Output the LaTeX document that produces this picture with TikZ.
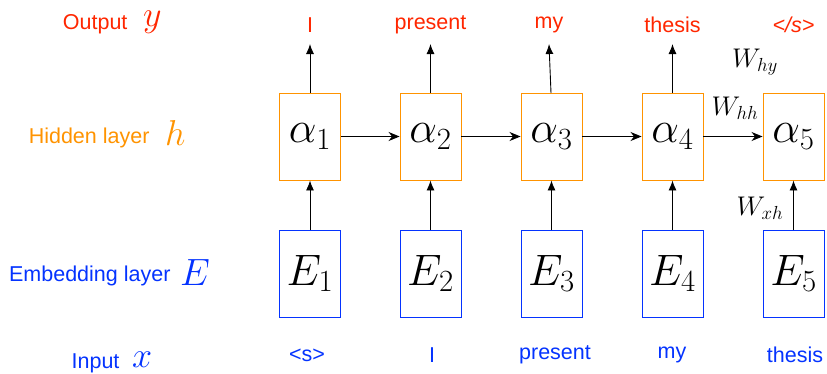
\RequirePackage{fix-cm}
\documentclass[tikz,border=0pt]{standalone}
\usepackage{fontspec}
\setmainfont{Liberation Sans}
\usetikzlibrary{arrows.meta}
\definecolor{kred}{RGB}{255,38,0}
\definecolor{korange}{RGB}{255,147,0}
\definecolor{kblue}{RGB}{4,51,255}
\begin{document}
\begin{tikzpicture}[x=1pt,y=-1pt,
  hbox/.style={draw=korange,line width=0.9pt,minimum width=61pt,minimum height=87pt,inner sep=0pt},
  ebox/.style={draw=kblue,line width=0.9pt,minimum width=61pt,minimum height=87pt,inner sep=0pt},
  big/.style={font=\fontsize{44}{50}\selectfont},
  word/.style={font=\fontsize{21.5}{24}\selectfont},
  sym/.style={inner sep=0pt,anchor=west},
  up/.style={-{Latex[length=10pt,width=8pt]},line width=0.9pt},
  right/.style={-{Stealth[length=11pt,width=9pt,inset=3.5pt]},line width=0.9pt},
  wlab/.style={font=\fontsize{27}{30}\selectfont,inner sep=0pt}]
\useasboundingbox (0,0) rectangle (827,373);
\foreach \i/\x in {1/310,2/430.5,3/551.5,4/672.5,5/793.5}{
  \node[hbox,big] (h\i) at (\x,136.5) {$\alpha_{\i}$};
  \node[ebox,big] (e\i) at (\x,273.5) {$E_{\i}$};
  \draw[up] (e\i) -- (h\i);
}
\foreach \a/\b in {1/2,2/3,3/4,4/5}{\draw[right] (h\a) -- (h\b);}
% outputs
\node[word,text=kred] (o1) at (310,25) {I};
\node[word,text=kred] (o2) at (430.5,25) {present};
\node[word,text=kred] (o3) at (549,25) {my};
\node[word,text=kred] (o4) at (672.5,25) {thesis};
\node[word,text=kred] (o5) at (793.5,25) {\textit{</s>}};
\coordinate (t1) at (310,44);
\coordinate (t2) at (430.5,44);
\coordinate (t3) at (549,44);
\coordinate (t4) at (672.5,44);
\draw[up] (h1.north) -- (t1);
\draw[up] (h2.north) -- (t2);
\draw[up] (551,93) -- (t3);
\draw[up] (h4.north) -- (t4);
% inputs
\node[word,text=kblue] (i1) at (307,355) {<s>};
\node[word,text=kblue] (i2) at (432,355) {I};
\node[word,text=kblue] (i3) at (555,355) {present};
\node[word,text=kblue] (i4) at (672,355) {my};
\node[word,text=kblue] (i5) at (795,355) {thesis};
% weight labels
\node[wlab] (whyl) at (755,62) {$W_{hy}$};
\node[wlab] (whhl) at (735,108) {$W_{hh}$};
\node[wlab] (wxhl) at (760,208) {$W_{xh}$};
% left labels
\node[word,text=kred,anchor=east] (lo) at (131,24) {Output};
\node[sym,text=kred,font=\fontsize{36}{38}\selectfont] (loy) at (143,22) {$y$};
\node[word,text=korange,anchor=east] (lh) at (153,138) {Hidden layer};
\node[sym,text=korange,font=\fontsize{36}{38}\selectfont] (lhh) at (165,133) {$h$};
\node[word,text=kblue,anchor=east] (le) at (174,276) {Embedding layer};
\node[sym,text=kblue,font=\fontsize{38}{40}\selectfont] (lee) at (180,273) {$E$};
\node[word,text=kblue,anchor=east] (li) at (123,363) {Input};
\node[sym,text=kblue,font=\fontsize{36}{38}\selectfont] (lix) at (132,360) {$x$};
\end{tikzpicture}
\end{document}
